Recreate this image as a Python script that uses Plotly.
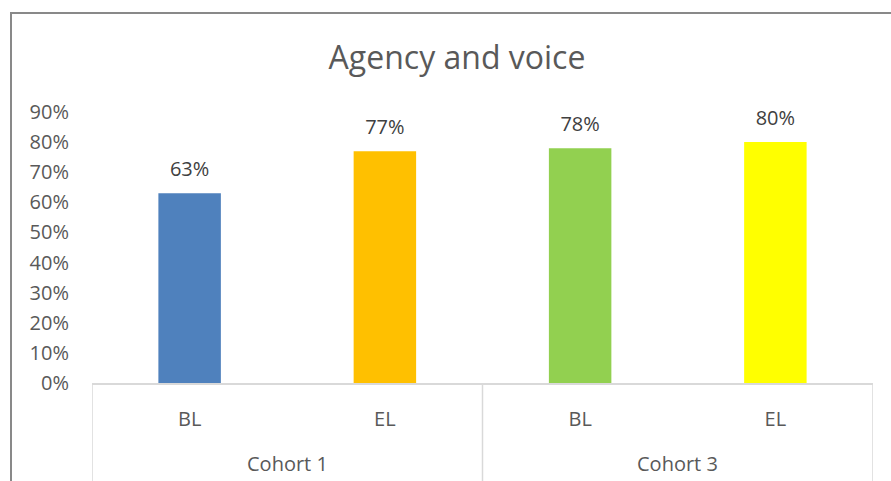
import plotly.graph_objects as go

cohorts = ["Cohort 1", "Cohort 1", "Cohort 3", "Cohort 3"]
stages = ["BL", "EL", "BL", "EL"]
values = [0.63, 0.77, 0.78, 0.80]
colors = ["#4F81BD", "#FFC000", "#92D050", "#FFFF00"]
title = "Agency and voice"

W, H = 891, 481
ML, MR, MT, MB = 92, 18, 112, 98
pw, ph = W - ML - MR, H - MT - MB
FONT = "Open Sans"
AXC = "#D9D9D9"

keys = [f"{c}|{s}" for c, s in zip(cohorts, stages)]

fig = go.Figure()
fig.add_trace(go.Bar(
    x=keys, y=values,
    marker=dict(color=colors, line=dict(width=0)),
    width=0.32, hoverinfo="skip", showlegend=False,
))
fig.add_trace(go.Scatter(
    x=keys, y=values,
    mode="markers+text",
    marker=dict(size=18, color="rgba(0,0,0,0)"),
    text=[f"{v:.0%}" for v in values],
    textposition="top center",
    textfont=dict(family=FONT, size=20, color="#404040"),
    hoverinfo="skip", showlegend=False, cliponaxis=False,
))

# group cohort labels and divider lines
groups = []
for i, c in enumerate(cohorts):
    if groups and groups[-1][0] == c:
        groups[-1][2] = i
    else:
        groups.append([c, i, i])

annotations = []
shapes = []
bounds = set()
for c, i0, i1 in groups:
    annotations.append(dict(text=c, x=(i0 + i1) / 2, xref="x", y=-(463 - (H - MB)) / ph,
                            yref="paper", yanchor="middle", showarrow=False,
                            font=dict(family=FONT, size=20, color="#595959")))
    bounds.add(i0 - 0.5)
    bounds.add(i1 + 0.5)
for b in sorted(bounds):
    shapes.append(dict(type="line", xref="x", yref="paper", x0=b, x1=b, y0=0, y1=-0.5,
                       line=dict(color=AXC, width=1.5)))

shapes.append(dict(type="rect", xref="paper", yref="paper",
                   x0=(11 - ML) / pw, x1=(W + 20 - ML) / pw,
                   y0=(MB - H - 20) / ph, y1=(H - MB - 13) / ph,
                   line=dict(color="#898989", width=2), fillcolor="rgba(0,0,0,0)", layer="below"))

fig.update_layout(
    width=W, height=H,
    margin=dict(l=ML, r=MR, t=MT, b=MB),
    paper_bgcolor="white", plot_bgcolor="white",
    title=dict(text=title, x=457 / W, xref="container", xanchor="center",
               y=1 - 58 / H, yanchor="middle",
               font=dict(family=FONT, size=32, color="#595959")),
    font=dict(family=FONT, size=20, color="#595959"),
    yaxis=dict(range=[0, 0.9], dtick=0.1, tickformat=".0%", showgrid=False,
               zeroline=False, showline=False, ticklabelstandoff=22,
               tickfont=dict(family=FONT, size=20, color="#595959")),
    xaxis=dict(type="category", range=[-0.5, len(keys) - 0.5],
               tickvals=keys, ticktext=stages,
               showline=True, linecolor=AXC, linewidth=1.5,
               ticklabelstandoff=17,
               tickfont=dict(family=FONT, size=20, color="#595959"),
               showgrid=False, zeroline=False),
    annotations=annotations,
    shapes=shapes,
)

fig.write_html("out.html")
